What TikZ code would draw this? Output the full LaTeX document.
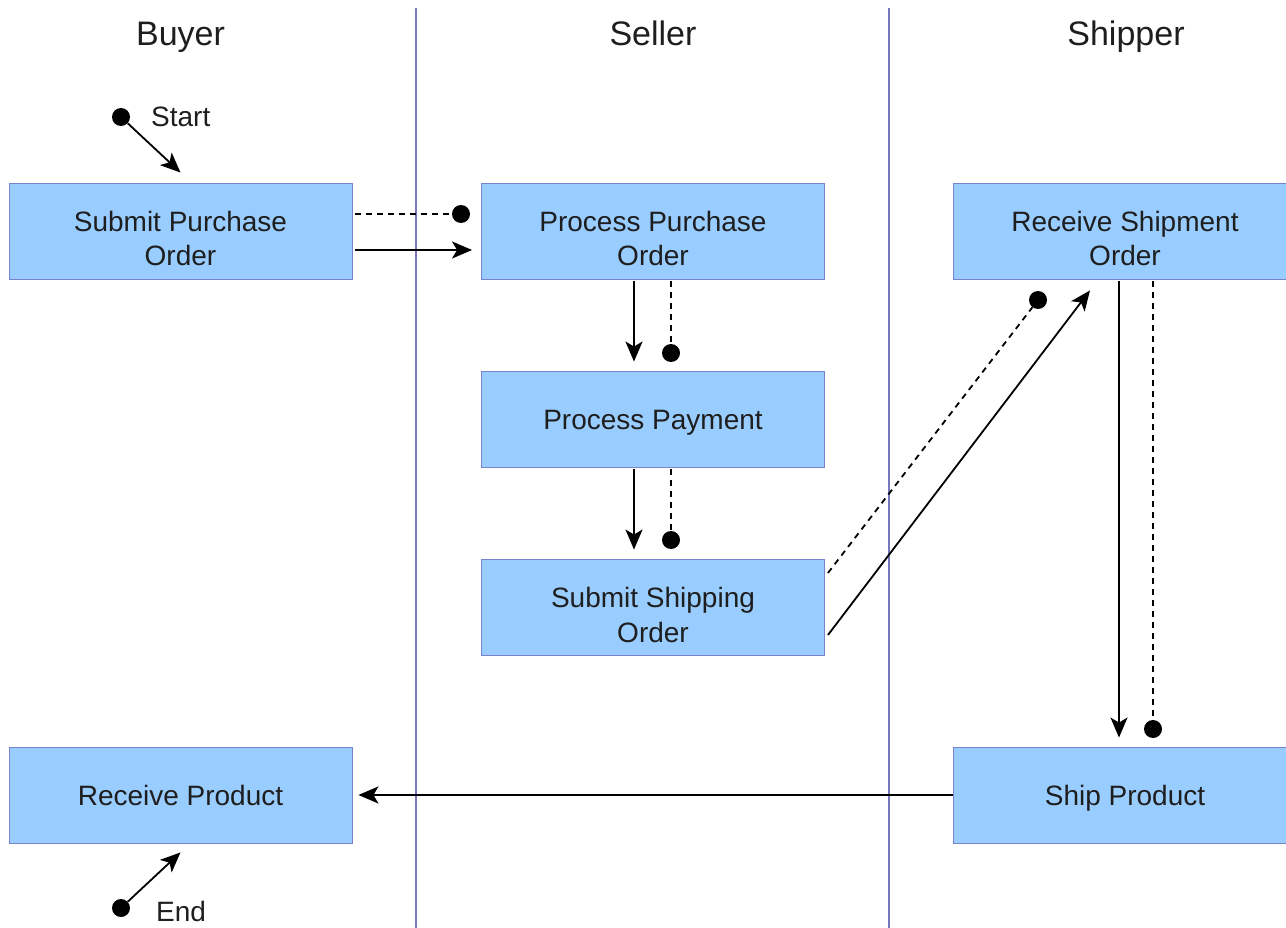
\documentclass[tikz,border=0pt]{standalone}
\usepackage{fontspec}
\setmainfont{Liberation Sans}
\usetikzlibrary{arrows.meta,calc}
\definecolor{boxfill}{RGB}{153,204,255}
\definecolor{boxline}{RGB}{120,130,205}
\definecolor{lane}{RGB}{120,120,190}
\definecolor{ink}{RGB}{30,30,30}
\begin{document}
\begin{tikzpicture}[x=1pt,y=1pt,
  activity/.style={draw=boxline, line width=0.9pt, fill=boxfill, minimum width=343pt,
    minimum height=96pt, inner sep=0pt, align=center, text=ink,
    text height=26pt, text depth=6pt,
    font=\fontsize{28}{35}\selectfont},
  twoline/.style={text height=76pt, text depth=6pt},
  header/.style={text=ink, font=\fontsize{34}{40}\selectfont, text height=25pt, text depth=8pt},
  note/.style={text=ink, font=\fontsize{28}{35}\selectfont, inner sep=0pt},
  dot/.style={circle, fill=black, minimum size=18pt, inner sep=0pt},
  flow/.style={line width=1.8pt, -{Stealth[length=20pt,width=17pt,inset=5pt]}},
  msg/.style={line width=1.8pt, dash pattern=on 6pt off 5pt},
  lanesep/.style={draw=lane, line width=1.6pt}]
\useasboundingbox (0,0) rectangle (1286,-928);
\begin{scope}
\clip (0,0) rectangle (1286,-928);

% swimlane separators
\coordinate (l1t) at (416,-8);  \coordinate (l1b) at (416,-928);
\coordinate (l2t) at (889,-8);  \coordinate (l2b) at (889,-928);
\draw[lanesep] (l1t) -- (l1b);
\draw[lanesep] (l2t) -- (l2b);

% lane headers
\node[header] (hb) at (180.5,-37) {Buyer};
\node[header] (hs) at (653,-37) {Seller};
\node[header] (hp) at (1126,-37) {Shipper};

% activities
\node[activity,twoline] (spo) at (180.5,-231) {Submit Purchase\\Order};
\node[activity,twoline] (ppo) at (653,-231) {Process Purchase\\Order};
\node[activity,twoline] (rso) at (1125,-231) {Receive Shipment\\Order};
\node[activity] (pp)  at (653,-419) {Process Payment};
\node[activity,twoline] (sso) at (653,-607) {Submit Shipping\\Order};
\node[activity] (rp)  at (180.5,-795) {Receive Product};
\node[activity] (sp)  at (1125,-795) {Ship Product};

% message end points
\node[dot] (d0) at (121,-117) {};
\node[dot] (d1) at (461,-214) {};
\node[dot] (d2) at (671,-353) {};
\node[dot] (d3) at (671,-540) {};
\node[dot] (d4) at (1038,-300) {};
\node[dot] (d5) at (1153,-729) {};
\node[dot] (d6) at (121,-908) {};

\node[note, anchor=west] (lstart) at (151,-117) {Start};
\node[note, anchor=west] (lend) at (156,-911) {End};

% start / end
\draw[flow] (d0) -- ([yshift=10pt]spo.north);
\draw[flow] (d6) -- ([yshift=-9pt]rp.south);

% buyer -> seller
\draw[msg] ([xshift=3pt,yshift=17pt]spo.east) -- (d1);
\draw[flow] ([xshift=3pt,yshift=-19pt]spo.east) -- ([xshift=-9pt,yshift=-19pt]ppo.west);

% seller internal
\draw[flow] ([xshift=-19pt,yshift=-2pt]ppo.south) -- ([xshift=-19pt,yshift=9pt]pp.north);
\draw[msg] ([xshift=18pt,yshift=-2pt]ppo.south) -- (d2);
\draw[flow] ([xshift=-19pt,yshift=-2pt]pp.south) -- ([xshift=-19pt,yshift=9pt]sso.north);
\draw[msg] ([xshift=18pt,yshift=-2pt]pp.south) -- (d3);

% seller -> shipper
\draw[msg] ([xshift=3pt,yshift=34pt]sso.east) -- (d4);
\draw[flow] ([xshift=3pt,yshift=-28pt]sso.east) -- ([xshift=-35pt,yshift=-11pt]rso.south);

% shipper internal
\draw[flow] ([xshift=-6pt,yshift=-2pt]rso.south) -- ([xshift=-6pt,yshift=9pt]sp.north);
\draw[msg] ([xshift=28pt,yshift=-2pt]rso.south) -- (d5);

% shipper -> buyer
\draw[flow] (sp.west) -- ([xshift=6pt]rp.east);
\end{scope}
\end{tikzpicture}
\end{document}
